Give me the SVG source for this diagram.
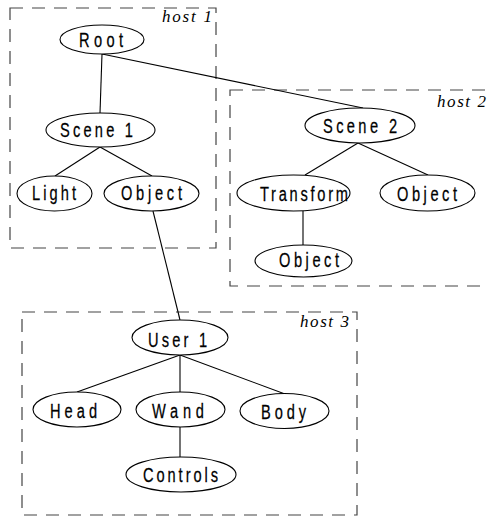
<svg xmlns="http://www.w3.org/2000/svg" width="489" height="518" viewBox="0 0 489 518">
<style>
.host{fill:none;stroke:#444;stroke-width:1.2;stroke-dasharray:13 9}
.hl{font-family:"Liberation Serif","Times New Roman",serif;font-style:italic;font-size:17px;fill:#000}
.n ellipse{fill:#fff;stroke:#000;stroke-width:1.1}
.n text{font-family:"Liberation Sans",Arial,sans-serif;font-size:19.5px;fill:#000;stroke:#000;stroke-width:0.25}
#connectors line{stroke:#000;stroke-width:1.1}
</style>
<rect width="489" height="518" fill="#fff"/>
<g id="hosts">
<rect class="host" x="10" y="8" width="206" height="240"/>
<text class="hl" x="162" y="22" textLength="50" lengthAdjust="spacing">host 1</text>
<rect class="host" x="230" y="90" width="280" height="196"/>
<text class="hl" x="437" y="107" textLength="49" lengthAdjust="spacing">host 2</text>
<rect class="host" x="22" y="312" width="335" height="203"/>
<text class="hl" x="300" y="327" textLength="49" lengthAdjust="spacing">host 3</text>
</g>
<g id="connectors">
<line x1="102" y1="54" x2="100" y2="113"/>
<line x1="102" y1="54" x2="363" y2="108"/>
<line x1="100" y1="147" x2="55" y2="176"/>
<line x1="100" y1="147" x2="152" y2="176"/>
<line x1="153" y1="211" x2="180" y2="320"/>
<line x1="358" y1="143" x2="305" y2="175"/>
<line x1="358" y1="143" x2="428" y2="175"/>
<line x1="303" y1="211" x2="303" y2="245"/>
<line x1="180" y1="355" x2="77" y2="392"/>
<line x1="180" y1="355" x2="180" y2="392"/>
<line x1="180" y1="355" x2="285" y2="394"/>
<line x1="180" y1="427" x2="180" y2="457"/>
</g>
<g id="root" class="n"><ellipse cx="102" cy="39.5" rx="42" ry="14.5"/><text transform="translate(79 47) scale(0.75 1)" textLength="58.7" lengthAdjust="spacing">Root</text></g>
<g id="scene1" class="n"><ellipse cx="100.5" cy="130" rx="54.5" ry="17"/><text transform="translate(60 137) scale(0.75 1)" textLength="97.3" lengthAdjust="spacing">Scene 1</text></g>
<g id="light" class="n"><ellipse cx="54.5" cy="193.5" rx="37.5" ry="17.5"/><text transform="translate(32 200) scale(0.75 1)" textLength="58.7" lengthAdjust="spacing">Light</text></g>
<g id="object1" class="n"><ellipse cx="151.5" cy="193.5" rx="47.5" ry="17.5"/><text transform="translate(121 200) scale(0.75 1)" textLength="81.3" lengthAdjust="spacing">Object</text></g>
<g id="scene2" class="n"><ellipse cx="360" cy="125.5" rx="55" ry="17.5"/><text transform="translate(323 133) scale(0.75 1)" textLength="98.7" lengthAdjust="spacing">Scene 2</text></g>
<g id="transform" class="n"><ellipse cx="293.5" cy="193" rx="56.5" ry="18"/><text transform="translate(260 201) scale(0.75 1)" textLength="117.3" lengthAdjust="spacing">Transform</text></g>
<g id="object2" class="n"><ellipse cx="427.5" cy="193" rx="47.5" ry="18"/><text transform="translate(397 201) scale(0.75 1)" textLength="80" lengthAdjust="spacing">Object</text></g>
<g id="object3" class="n"><ellipse cx="303.5" cy="261" rx="48.5" ry="16"/><text transform="translate(279 267) scale(0.75 1)" textLength="80" lengthAdjust="spacing">Object</text></g>
<g id="user1" class="n"><ellipse cx="180" cy="337.5" rx="48" ry="17.5"/><text transform="translate(148 347) scale(0.75 1)" textLength="78.7" lengthAdjust="spacing">User 1</text></g>
<g id="head" class="n"><ellipse cx="77" cy="409.5" rx="44" ry="17.5"/><text transform="translate(50 418) scale(0.75 1)" textLength="62.7" lengthAdjust="spacing">Head</text></g>
<g id="wand" class="n"><ellipse cx="180.5" cy="409.5" rx="44.5" ry="17.5"/><text transform="translate(152 418) scale(0.75 1)" textLength="69.3" lengthAdjust="spacing">Wand</text></g>
<g id="body" class="n"><ellipse cx="284.5" cy="411" rx="44.5" ry="17.5"/><text transform="translate(261 419) scale(0.75 1)" textLength="60" lengthAdjust="spacing">Body</text></g>
<g id="controls" class="n"><ellipse cx="181" cy="474.5" rx="55" ry="17.5"/><text transform="translate(143 482) scale(0.75 1)" textLength="100" lengthAdjust="spacing">Controls</text></g>
</svg>
